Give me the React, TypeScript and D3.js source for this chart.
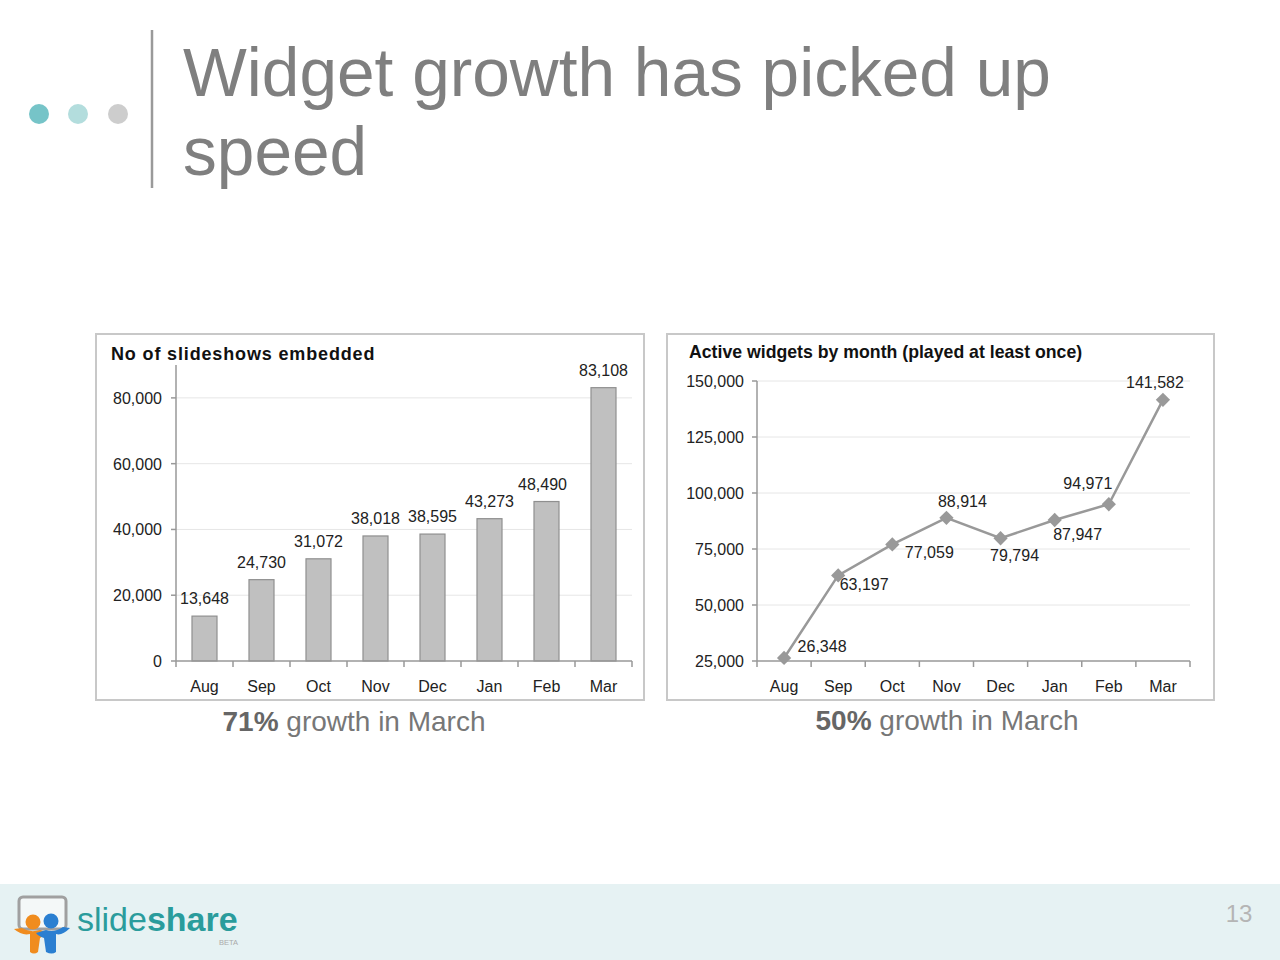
import React from "react";
import * as d3 from "d3";

const months = ["Aug", "Sep", "Oct", "Nov", "Dec", "Jan", "Feb", "Mar"];
const embeddedValues = [13648, 24730, 31072, 38018, 38595, 43273, 48490, 83108];
const embeddedTicks = [0, 20000, 40000, 60000, 80000];
const activeValues = [26348, 63197, 77059, 88914, 79794, 87947, 94971, 141582];
const activeTicks = [25000, 50000, 75000, 100000, 125000, 150000];
// label centre placement relative to marker: [dx, dy]
const activeLabelOffsets: [number, number][] = [
  [38, -12], [26, 9], [37, 8], [16, -17], [14, 17], [23, 14], [-21, -21], [-8, -18],
];
const embeddedLabelShift = [0, 0, 0, 0, 0, 0, -4, 0];

const fmt = d3.format(",");
const FONT = "'Liberation Sans', Arial, sans-serif";

function BarChart() {
  const left = 176, right = 632, top = 365, bottom = 661;
  const x = d3.scaleBand<string>().domain(months).range([left, right]).paddingInner(0).paddingOuter(0);
  const y = d3.scaleLinear().domain([0, 90000]).range([bottom, top]);
  const bw = 25;
  return (
    <g>
      <rect x={96} y={334} width={548} height={366} fill="#fff" stroke="#c8c8c8" strokeWidth={2} />
      <text x={111} y={360} fontFamily={FONT} fontWeight="bold" fontSize={18} letterSpacing={0.85} fill="#111">
        No of slideshows embedded
      </text>
      {embeddedTicks.map((t) => (
        <g key={t}>
          {t > 0 && <line x1={left} x2={right} y1={y(t)} y2={y(t)} stroke="#e6e6e6" strokeWidth={1} />}
          <line x1={left - 5} x2={left} y1={y(t)} y2={y(t)} stroke="#999" strokeWidth={1.5} />
          <text x={162} y={y(t) + 6} textAnchor="end" fontFamily={FONT} fontSize={16} fill="#222">
            {fmt(t)}
          </text>
        </g>
      ))}
      <line x1={left} x2={left} y1={top} y2={bottom} stroke="#999" strokeWidth={1.5} />
      {embeddedValues.map((v, i) => {
        const cx = x(months[i])! + x.bandwidth() / 2;
        return (
          <g key={i}>
            <rect x={cx - bw / 2} y={y(v)} width={bw} height={bottom - y(v)} fill="#c0c0c0" stroke="#8f8f8f" strokeWidth={1.2} />
            <text x={cx + embeddedLabelShift[i]} y={y(v) - 12} textAnchor="middle" fontFamily={FONT} fontSize={16} fill="#222">
              {fmt(v)}
            </text>
            <text x={cx} y={692} textAnchor="middle" fontFamily={FONT} fontSize={16} fill="#222">
              {months[i]}
            </text>
          </g>
        );
      })}
      <line x1={left} x2={right} y1={bottom} y2={bottom} stroke="#999" strokeWidth={1.5} />
      {d3.range(months.length + 1).map((i) => {
        const xx = left + i * x.bandwidth();
        return <line key={i} x1={xx} x2={xx} y1={bottom} y2={bottom + 6} stroke="#999" strokeWidth={1.5} />;
      })}
      <text x={354} y={731} textAnchor="middle" fontFamily={FONT} fontSize={28} fill="#777">
        <tspan fontWeight="bold" fill="#666">71%</tspan> growth in March
      </text>
    </g>
  );
}

function LineChart() {
  const left = 757, right = 1190, top = 381, bottom = 661;
  const x = d3.scaleBand<string>().domain(months).range([left, right]);
  const y = d3.scaleLinear().domain([25000, 150000]).range([bottom, top]);
  const px = (i: number) => x(months[i])! + x.bandwidth() / 2;
  const line = d3.line<number>().x((_, i) => px(i)).y((v) => y(v));
  const diamond = d3.symbol().type(d3.symbolDiamond2).size(130)();
  return (
    <g>
      <rect x={667} y={334} width={547} height={366} fill="#fff" stroke="#c8c8c8" strokeWidth={2} />
      <text x={689} y={358} fontFamily={FONT} fontWeight="bold" fontSize={17.7} fill="#111">
        Active widgets by month (played at least once)
      </text>
      {activeTicks.map((t) => (
        <g key={t}>
          {t > 25000 && <line x1={left} x2={right} y1={y(t)} y2={y(t)} stroke="#e6e6e6" strokeWidth={1} />}
          <line x1={left - 5} x2={left} y1={y(t)} y2={y(t)} stroke="#999" strokeWidth={1.5} />
          <text x={744} y={y(t) + 6} textAnchor="end" fontFamily={FONT} fontSize={16} fill="#222">
            {fmt(t)}
          </text>
        </g>
      ))}
      <line x1={left} x2={left} y1={top} y2={bottom} stroke="#999" strokeWidth={1.5} />
      <line x1={left} x2={right} y1={bottom} y2={bottom} stroke="#999" strokeWidth={1.5} />
      {d3.range(months.length + 1).map((i) => {
        const xx = left + i * x.bandwidth();
        return <line key={i} x1={xx} x2={xx} y1={bottom} y2={bottom + 6} stroke="#999" strokeWidth={1.5} />;
      })}
      {months.map((m, i) => (
        <text key={m} x={px(i)} y={692} textAnchor="middle" fontFamily={FONT} fontSize={16} fill="#222">
          {m}
        </text>
      ))}
      <path d={line(activeValues)!} fill="none" stroke="#999" strokeWidth={2.5} />
      {activeValues.map((v, i) => (
        <g key={i}>
          <path d={diamond!} transform={`translate(${px(i)},${y(v)})`} fill="#999" />
          <text
            x={px(i) + activeLabelOffsets[i][0]}
            y={y(v) + activeLabelOffsets[i][1] + 6}
            textAnchor="middle"
            fontFamily={FONT}
            fontSize={16}
            fill="#222"
          >
            {fmt(v)}
          </text>
        </g>
      ))}
      <text x={947} y={730} textAnchor="middle" fontFamily={FONT} fontSize={28} fill="#777">
        <tspan fontWeight="bold" fill="#666">50%</tspan> growth in March
      </text>
    </g>
  );
}

function Header() {
  return (
    <g>
      <circle cx={39} cy={114} r={10} fill="#76c4c8" />
      <circle cx={78} cy={114} r={10} fill="#b3dddd" />
      <circle cx={118} cy={114} r={10} fill="#cdcdcd" />
      <line x1={152} x2={152} y1={30} y2={188} stroke="#9a9a9a" strokeWidth={2.5} />
      <text fontFamily={FONT} fontSize={67.6} fill="#7f7f7f">
        <tspan x={183} y={96}>Widget growth has picked up</tspan>
        <tspan x={183} y={175}>speed</tspan>
      </text>
    </g>
  );
}

function Footer() {
  return (
    <g>
      <rect x={0} y={884} width={1280} height={76} fill="#e6f2f3" />
      <rect x={19} y={897} width={47} height={32} rx={4} fill="#f4f8f8" stroke="#a0a0a0" strokeWidth={3} />
      {/* orange person */}
      <path d="M14,929 Q22,936 30,934 L30,952 Q34,955 38,952 L40,938 Q44,936 46,932 L40,930 Q30,933 22,928 Z" fill="#f08c1e" />
      <circle cx={33} cy={922} r={7.5} fill="#f08c1e" />
      {/* blue person */}
      <path d="M70,928 Q62,936 56,934 L56,952 Q52,955 46,952 L44,938 Q38,936 36,933 L46,930 Q54,933 63,927 Z" fill="#2a7fd1" />
      <circle cx={51} cy={921} r={7.5} fill="#2a7fd1" />
      <text x={77} y={931} fontFamily={FONT} fontSize={34} fill="#2a9c9c">
        slide<tspan fontWeight="bold">share</tspan>
      </text>
      <text x={219} y={945} fontFamily={FONT} fontSize={7.5} fill="#aaaaaa">BETA</text>
      <text x={1239} y={922} textAnchor="middle" fontFamily={FONT} fontSize={24} fill="#b5b5b5">13</text>
    </g>
  );
}

export default function App() {
  return (
    <svg
      width={1280}
      height={960}
      viewBox="0 0 1280 960"
      style={{ position: "absolute", left: 0, top: 0, background: "#fff" }}
    >
      <rect width={1280} height={960} fill="#fff" />
      <Header />
      <BarChart />
      <LineChart />
      <Footer />
    </svg>
  );
}
